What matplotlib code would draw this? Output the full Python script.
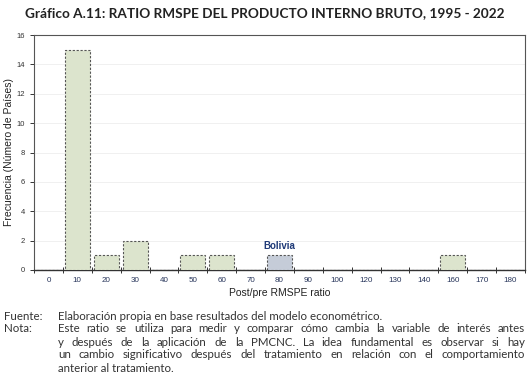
import matplotlib

matplotlib.use("Agg")
import matplotlib.pyplot as plt
import numpy as np

W, H = 531, 386

labels = ["0", "10", "20", "30", "40", "50", "60", "70", "80", "90",
          "100", "120", "130", "140", "160", "170", "180"]
counts = [0, 15, 1, 2, 0, 1, 1, 0, 1, 0, 0, 0, 0, 0, 1, 0, 0]
highlight = "80"
highlight_name = "Bolivia"

title = "Gráfico A.11: RATIO RMSPE DEL PRODUCTO INTERNO BRUTO, 1995 - 2022"
fuente = "Elaboración propia en base resultados del modelo econométrico."
nota_lines = [
    "Este ratio se utiliza para medir y comparar cómo cambia la variable de interés antes",
    "y después de la aplicación de la PMCNC. La idea fundamental es observar si hay",
    "un cambio significativo después del tratamiento en relación con el comportamiento",
    "anterior al tratamiento.",
]

fig = plt.figure(figsize=(W / 100, H / 100), dpi=100)
ax = fig.add_axes([34 / W, 1 - 270 / H, (525 - 34) / W, (270 - 35) / H])

x = np.arange(len(labels))
colors = ["#c5ccd8" if l == highlight else "#dce4cd" for l in labels]
ax.bar(x, counts, width=0.86, color=colors, edgecolor="#555555",
       linestyle=(0, (2, 1.5)), linewidth=0.8, zorder=3)

hi = labels.index(highlight)
ax.text(hi, counts[hi] + 0.3, highlight_name, ha="center", va="bottom",
        fontsize=7, fontweight="bold", color="#1f3a78", family="Liberation Sans")

ax.set_xlim(-0.5, len(labels) - 0.5)
ax.set_ylim(0, 16)
ax.set_yticks(np.arange(0, 17, 2))
ax.set_xticks(x)
ax.set_xticklabels(labels)
ax.set_xticks(np.arange(-0.5, len(labels) + 0.5, 1), minor=True)
ax.tick_params(axis="x", which="major", length=0, labelsize=5.8,
               labelcolor="#26345a", pad=5)
ax.tick_params(axis="x", which="minor", direction="inout", length=5,
               width=0.7, color="#333333")
ax.tick_params(axis="y", direction="out", length=3, width=0.7,
               labelsize=5.5, labelcolor="#333333", color="#333333")
for lab in ax.get_xticklabels() + ax.get_yticklabels():
    lab.set_family("Liberation Sans")
ax.grid(axis="y", color="#eeeeee", linewidth=0.6, zorder=0)
for s in ax.spines.values():
    s.set_color("#555555")
    s.set_linewidth(0.8)
ax.spines["bottom"].set_color("#333333")
ax.spines["bottom"].set_linewidth(1.0)

ax.set_ylabel("Frecuencia (Número de Países)", fontsize=7.5,
              family="Liberation Sans", color="#222222", labelpad=2)
ax.set_xlabel("Post/pre RMSPE ratio", fontsize=7.5,
              family="Liberation Sans", color="#222222", labelpad=3)

fig.text(265 / W, 1 - 13 / H, title, ha="center", va="center",
         fontsize=9.8, fontweight="bold", family="Lato", color="#222222")

fsize = 8.3
ffam = "Lato"
fcol = "#333333"
x0, x1 = 58, 525
fig.text(4 / W, 1 - 316 / H, "Fuente:", fontsize=fsize, family=ffam,
         color=fcol, va="center")
fig.text(x0 / W, 1 - 316 / H, fuente, fontsize=fsize, family=ffam,
         color=fcol, va="center")
fig.text(4 / W, 1 - 329 / H, "Nota:", fontsize=fsize, family=ffam,
         color=fcol, va="center")

renderer = fig.canvas.get_renderer()
for i, line in enumerate(nota_lines):
    y = 1 - (329 + 13 * i) / H
    words = line.split()
    if i == len(nota_lines) - 1:
        fig.text(x0 / W, y, line, fontsize=fsize, family=ffam, color=fcol,
                 va="center")
        continue
    texts = [fig.text(0, y, w, fontsize=fsize, family=ffam, color=fcol,
                      va="center") for w in words]
    widths = [t.get_window_extent(renderer).width for t in texts]
    gap = (x1 - x0 - sum(widths)) / (len(words) - 1)
    pos = x0
    for t, wd in zip(texts, widths):
        t.set_x(pos / W)
        pos += wd + gap

fig.savefig("out.png", dpi=100)
